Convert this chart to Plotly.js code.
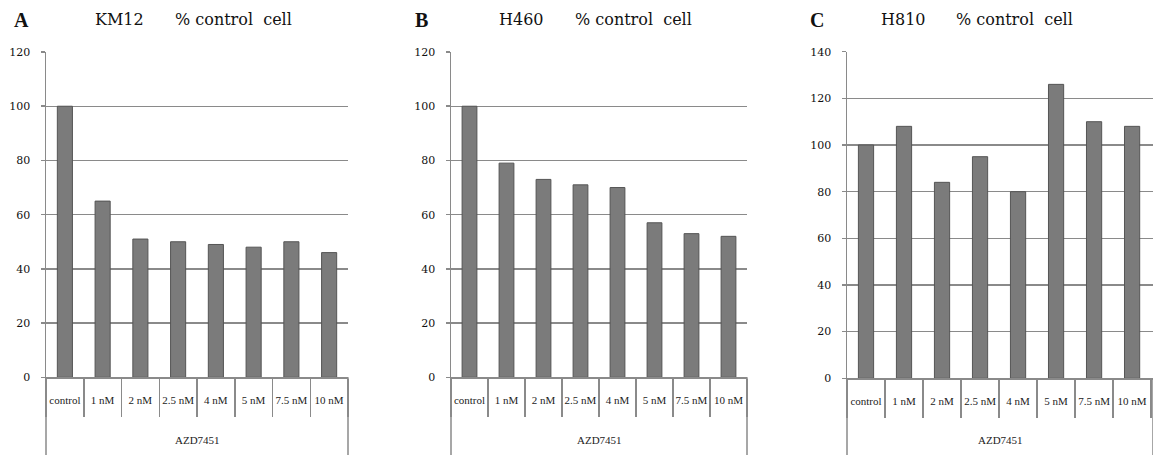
<!DOCTYPE html>
<html>
<head>
<meta charset="utf-8">
<script src="https://cdn.plot.ly/plotly-3.0.1.min.js"></script>
<style>html,body{margin:0;padding:0;background:#fff;}#chart{width:1153px;height:455px;}</style>
</head>
<body>
<div id="chart"></div>
<script>
// ---- data ----
const categories = ['control', '1 nM', '2 nM', '2.5 nM', '4 nM', '5 nM', '7.5 nM', '10 nM'];
const km12 = [100, 65, 51, 50, 49, 48, 50, 46];
const h460 = [100, 79, 73, 71, 70, 57, 53, 52];
const h810 = [100, 108, 84, 95, 80, 126, 110, 108];
const panelLetters = ['A', 'B', 'C'];
const cellLines = ['KM12', 'H460', 'H810'];
const titleSuffix = '% control  cell';
const groupLabel = 'AZD7451';
const yMax = [120, 120, 140];
const series = [km12, h460, h810];

// ---- layout geometry (pixels) ----
const W = 1153, H = 455;
const geom = [
  {x0: 46, x1: 348, yb: 377.3, yt: 52, letterX: 12, cellX: 93, sufX: 173},
  {x0: 451, x1: 747, yb: 377.3, yt: 52, letterX: 413, cellX: 497, sufX: 573},
  {x0: 847, x1: 1153, yb: 378.3, yt: 51.7, letterX: 808, cellX: 879, sufX: 954}
];

const gray = '#8a8a8a';
const traces = [];
const layout = {
  width: W, height: H,
  margin: {l: 0, r: 0, t: 0, b: 0},
  paper_bgcolor: '#fff', plot_bgcolor: '#fff',
  showlegend: false,
  bargap: 0.6,
  annotations: [], shapes: []
};

series.forEach((vals, i) => {
  const sx = i === 0 ? '' : String(i + 1);
  const g = geom[i];
  traces.push({
    type: 'bar', x: categories, y: vals,
    xaxis: 'x' + sx, yaxis: 'y' + sx,
    marker: {color: '#7b7b7b', line: {color: '#555555', width: 1}},
    hoverinfo: 'x+y'
  });
  const rightRange = i === 2 ? 7.55 : 7.5;
  layout['xaxis' + sx] = {
    domain: [g.x0 / W, g.x1 / W],
    anchor: 'y' + sx,
    type: 'category',
    range: [-0.5, rightRange],
    tickson: 'boundaries',
    ticks: 'outside', ticklen: 38, tickwidth: 1.5, tickcolor: gray,
    tickangle: 0,
    ticklabelstandoff: 12,
    showline: true, linecolor: gray, linewidth: 1.5,
    showgrid: false, zeroline: false,
    tickfont: {family: 'Liberation Serif', size: 11, color: '#222'},
    fixedrange: true
  };
  layout['yaxis' + sx] = {
    domain: [(H - g.yb) / H, (H - g.yt) / H],
    anchor: 'x' + sx,
    range: [0, yMax[i]],
    dtick: 20, tick0: 0,
    ticks: 'outside', ticklen: 4, tickwidth: 1.5, tickcolor: gray,
    ticklabelstandoff: 8,
    showline: true, linecolor: gray, linewidth: 1.5,
    showgrid: true, gridcolor: gray, gridwidth: 1.4,
    zeroline: false,
    tickfont: {family: 'DejaVu Serif', size: 11, color: '#111'},
    fixedrange: true
  };
  // outer bracket lines extending below the category row
  [0, 1].forEach(xe => {
    layout.shapes.push({
      type: 'line', xref: 'x' + sx + ' domain', yref: 'paper',
      x0: xe, x1: xe, y0: 0, y1: (H - g.yb) / H,
      line: {color: gray, width: 1.5}
    });
  });
  layout.annotations.push({
    text: groupLabel, xref: 'x' + sx + ' domain', yref: 'paper',
    x: 0.5, y: (H - 440) / H, xanchor: 'center', yanchor: 'middle',
    showarrow: false, font: {family: 'Liberation Serif', size: 11, color: '#222'}
  });
  layout.annotations.push({
    text: '<b>' + panelLetters[i] + '</b>', xref: 'paper', yref: 'paper',
    x: g.letterX / W, y: (H - 20) / H, xanchor: 'left', yanchor: 'middle',
    showarrow: false, font: {family: 'Liberation Serif', size: 20, color: '#111'}
  });
  layout.annotations.push({
    text: cellLines[i], xref: 'paper', yref: 'paper',
    x: g.cellX / W, y: (H - 20) / H, xanchor: 'left', yanchor: 'middle',
    showarrow: false, font: {family: 'DejaVu Serif', size: 16, color: '#111'}
  });
  layout.annotations.push({
    text: titleSuffix, xref: 'paper', yref: 'paper',
    x: g.sufX / W, y: (H - 20) / H, xanchor: 'left', yanchor: 'middle',
    showarrow: false, font: {family: 'DejaVu Serif', size: 16, color: '#111'}
  });
});

Plotly.newPlot('chart', traces, layout, {displayModeBar: false, staticPlot: true});
</script>
</body>
</html>
